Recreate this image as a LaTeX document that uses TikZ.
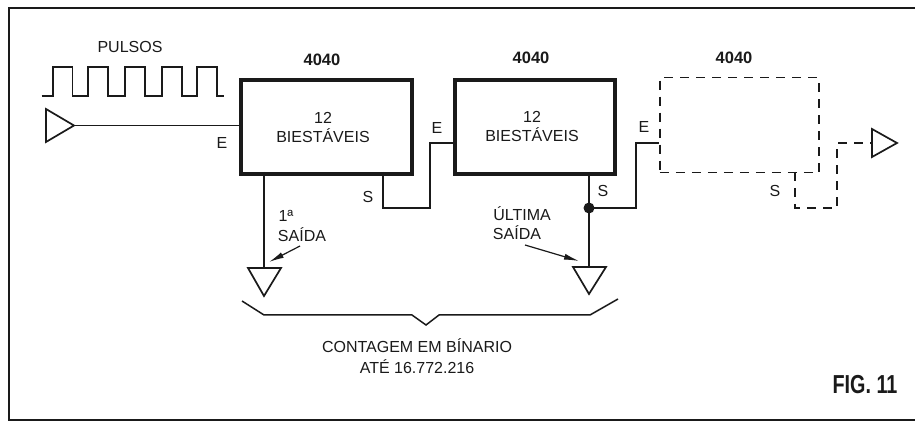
\documentclass[tikz,border=0pt]{standalone}
\usepackage{fontspec}
\setmainfont{Liberation Sans}
\usetikzlibrary{arrows.meta}
\definecolor{ink}{HTML}{1A1A1A}
\tikzset{
  wire/.style={draw=ink,line width=1.5pt},
  dwire/.style={draw=ink,line width=1.5pt,dash pattern=on 9pt off 7pt},
  chip/.style={draw=ink,line width=3.8pt,rectangle,inner sep=0pt,anchor=north west},
  dchip/.style={draw=ink,line width=1.5pt,dash pattern=on 9pt off 7pt,rectangle,inner sep=0pt,anchor=north west},
  tri/.style={draw=ink,line width=1.7pt,line join=miter,fill=white},
  lbl/.style={text=ink,font=\fontsize{16}{18}\selectfont,inner sep=0pt,align=center},
  ttl/.style={text=ink,font=\fontsize{16.5}{18}\selectfont\bfseries,inner sep=0pt},
  frm/.style={draw=ink,line width=2pt},
  callout/.style={draw=ink,line width=1.2pt,-{Latex[length=15pt,width=6pt]}}
}
\begin{document}
\begin{tikzpicture}[x=1pt,y=-1pt]
\useasboundingbox (0,0) rectangle (915,427);
\fill[white] (0,0) rectangle (915,427);
\draw[frm] (915,8) -- (9,8) -- (9,419.5) -- (915,419.5);
% pulses
\draw[wire,line width=1.7pt] (41.5,96) -- (53,96) -- (53,67) -- (72.5,67) -- (72.5,96) -- (88,96) -- (88,67) -- (108,67) -- (108,96) -- (125,96) -- (125,67) -- (145,67) -- (145,96) -- (162,96) -- (162,67) -- (182,67) -- (182,96) -- (197,96) -- (197,67) -- (217,67) -- (217,96) -- (224,96);
\node[lbl] (pulsos) at (130,47) {PULSOS};
% chips
\node[chip,minimum width=171pt,minimum height=94pt] (c1) at (239,78) {};
\node[chip,minimum width=160pt,minimum height=94pt] (c2) at (453,78) {};
\node[dchip,minimum width=159pt,minimum height=95pt] (c3) at (659,77) {};
\node[ttl] (t1) at (322,60) {4040};
\node[ttl] (t2) at (531,58) {4040};
\node[ttl] (t3) at (734,58) {4040};
\node[lbl] (n1) at (323,118) {12};
\node[lbl] (b1) at (323,136) {BIESTÁVEIS};
\node[lbl] (n2) at (532,117) {12};
\node[lbl] (b2) at (532,135) {BIESTÁVEIS};
% input triangle
\coordinate (inA) at (46,109);
\coordinate (inB) at (46,142);
\coordinate (inT) at (74,125.5);
\draw[wire] (inT) -- (c1.west |- inT);
\draw[tri] (inA) -- (inB) -- (inT) -- cycle;
\node[lbl] (e1) at (222,143) {E};
% c1 -> c2
\coordinate (s1) at (383,172);
\coordinate (s1b) at (383,208);
\coordinate (s1c) at (430,208);
\coordinate (s1d) at (430,143);
\coordinate (e2p) at (453,143);
\draw[wire] (s1) -- (s1b) -- (s1c) -- (s1d) -- (e2p);
\node[lbl] (sl1) at (368,197) {S};
\node[lbl] (e2) at (437,128) {E};
% c2 -> c3
\coordinate (s2) at (589,172);
\coordinate (j) at (589,208);
\coordinate (j2) at (636,208);
\coordinate (j3) at (636,143);
\coordinate (e3p) at (659,143);
\draw[wire] (s2) -- (j);
\draw[wire] (j) -- (j2) -- (j3) -- (e3p);
\fill[ink] (j) circle (5.5pt);
\node[lbl] (sl2) at (603,191) {S};
\node[lbl] (e3) at (644,127) {E};
% output triangles
\coordinate (o1) at (264,268);
\draw[wire] (264,172) -- (o1);
\draw[tri] (248,268) -- (281,268) -- (264,296) -- cycle;
\coordinate (o2) at (589,267);
\draw[wire] (j) -- (o2);
\draw[tri] (573,267) -- (606,267) -- (589,294) -- cycle;
% c3 output dashed
\draw[dwire] (795,172) -- (795,208) -- (837,208) -- (837,143) -- (872,143);
\draw[tri] (872,129) -- (872,157) -- (897,143) -- cycle;
\node[lbl] (sl3) at (775,191) {S};
% saida labels
\node[lbl,anchor=center] (l1a) at (286,216) {1ª};
\node[lbl] (l1b) at (302,235) {SAÍDA};
\node[lbl] (l2a) at (522,214) {ÚLTIMA};
\node[lbl] (l2b) at (517,233) {SAÍDA};
\coordinate (a1s) at (300,246);
\coordinate (a1e) at (269,262);
\coordinate (a2s) at (525,245);
\coordinate (a2e) at (579,261);
\draw[callout] (a1s) -- (a1e);
\draw[callout] (a2s) -- (a2e);
% brace
\draw[wire] (242,301) -- (264,315) -- (412,315) -- (426,325) -- (439,315) -- (590,315) -- (618,299);
\node[lbl] (c1t) at (417,346) {CONTAGEM EM BÍNARIO};
\node[lbl] (c2t) at (417,367) {ATÉ 16.772.216};
\node[text=ink,font=\fontsize{26}{28}\selectfont\bfseries,inner sep=0pt] (fig) at (865,385) {\scalebox{0.76}[1]{FIG. 11}};
\end{tikzpicture}
\end{document}
